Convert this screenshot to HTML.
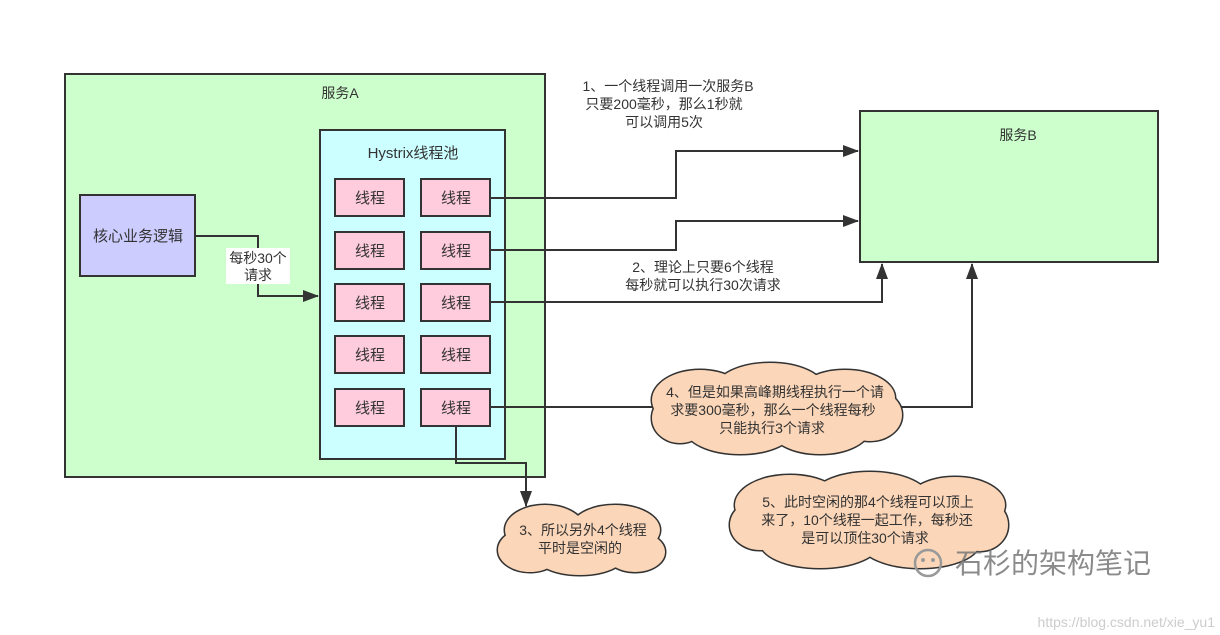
<!DOCTYPE html>
<html><head><meta charset="utf-8"><style>
body{margin:0;width:1220px;height:635px;background:#fff;overflow:hidden}
svg{display:block;font-size:14px}
text{font-family:"Liberation Sans","Noto Sans CJK SC",sans-serif;fill:#333}
</style></head><body>
<svg width="1220" height="635" viewBox="0 0 1220 635">
<defs><marker id="a" markerWidth="16" markerHeight="12" refX="15" refY="6" orient="auto" markerUnits="userSpaceOnUse"><path d="M0,0L16,6L0,12z" fill="#333"/></marker></defs>
<rect x="65" y="74" width="480" height="403" fill="#ccffcc" stroke="#333" stroke-width="2"/>
<text x="340" y="98" text-anchor="middle" font-size="14">服务A</text>
<rect x="320" y="130" width="185" height="329" fill="#ccffff" stroke="#333" stroke-width="2"/>
<text x="413" y="158" text-anchor="middle" font-size="15">Hystrix线程池</text>
<rect x="80" y="195" width="115" height="81" fill="#ccccff" stroke="#333" stroke-width="2"/>
<text x="138" y="241" text-anchor="middle" font-size="15">核心业务逻辑</text>
<g fill="#ffccdd" stroke="#333" stroke-width="2">
<rect x="335" y="179" width="69" height="37"/><rect x="421" y="179" width="69" height="37"/>
<rect x="335" y="232" width="69" height="37"/><rect x="421" y="232" width="69" height="37"/>
<rect x="335" y="284" width="69" height="37"/><rect x="421" y="284" width="69" height="37"/>
<rect x="335" y="336" width="69" height="37"/><rect x="421" y="336" width="69" height="37"/>
<rect x="335" y="389" width="69" height="37"/><rect x="421" y="389" width="69" height="37"/>
</g>
<g text-anchor="middle" font-size="15">
<text x="370" y="203">线程</text><text x="456" y="203">线程</text>
<text x="370" y="256">线程</text><text x="456" y="256">线程</text>
<text x="370" y="308">线程</text><text x="456" y="308">线程</text>
<text x="370" y="360">线程</text><text x="456" y="360">线程</text>
<text x="370" y="413">线程</text><text x="456" y="413">线程</text>
</g>
<rect x="860" y="111" width="298" height="151" fill="#ccffcc" stroke="#333" stroke-width="2"/>
<text x="1018" y="140" text-anchor="middle" font-size="14">服务B</text>
<g fill="none" stroke="#333" stroke-width="2">
<path d="M195,236H258V296H318" marker-end="url(#a)"/>
<path d="M490,198H676V151H858" marker-end="url(#a)"/>
<path d="M490,250H676V221H858" marker-end="url(#a)"/>
<path d="M490,302H882V264" marker-end="url(#a)"/>
<path d="M490,407H660"/>
<path d="M900,407H972V264" marker-end="url(#a)"/>
<path d="M456,426V463H526V506" marker-end="url(#a)"/>
</g>
<rect x="226" y="248" width="64" height="36" fill="#fff"/>
<text x="258" y="263" text-anchor="middle">每秒30个</text>
<text x="258" y="280" text-anchor="middle">请求</text>
<g text-anchor="middle">
<text x="668" y="91">1、一个线程调用一次服务B</text>
<text x="664" y="109">只要200毫秒，那么1秒就</text>
<text x="664" y="127">可以调用5次</text>
<text x="703" y="272">2、理论上只要6个线程</text>
<text x="703" y="290">每秒就可以执行30次请求</text>
</g>
<g stroke="#333" stroke-width="3" fill="#fbd6b8"><ellipse cx="700" cy="400" rx="48" ry="30"/><ellipse cx="770" cy="390" rx="55" ry="27"/><ellipse cx="845" cy="398" rx="50" ry="28"/><ellipse cx="870" cy="415" rx="32" ry="26"/><ellipse cx="680" cy="418" rx="28" ry="25"/><ellipse cx="740" cy="428" rx="55" ry="26"/><ellipse cx="820" cy="428" rx="50" ry="26"/></g>
<g fill="#fbd6b8"><ellipse cx="700" cy="400" rx="48" ry="30"/><ellipse cx="770" cy="390" rx="55" ry="27"/><ellipse cx="845" cy="398" rx="50" ry="28"/><ellipse cx="870" cy="415" rx="32" ry="26"/><ellipse cx="680" cy="418" rx="28" ry="25"/><ellipse cx="740" cy="428" rx="55" ry="26"/><ellipse cx="820" cy="428" rx="50" ry="26"/></g>
<g stroke="#333" stroke-width="3" fill="#fbd6b8"><ellipse cx="545" cy="530" rx="40" ry="25"/><ellipse cx="615" cy="530" rx="45" ry="25"/><ellipse cx="530" cy="550" rx="32" ry="22"/><ellipse cx="580" cy="555" rx="45" ry="20"/><ellipse cx="635" cy="552" rx="30" ry="20"/></g>
<g fill="#fbd6b8"><ellipse cx="545" cy="530" rx="40" ry="25"/><ellipse cx="615" cy="530" rx="45" ry="25"/><ellipse cx="530" cy="550" rx="32" ry="22"/><ellipse cx="580" cy="555" rx="45" ry="20"/><ellipse cx="635" cy="552" rx="30" ry="20"/></g>
<g stroke="#333" stroke-width="3" fill="#fbd6b8"><ellipse cx="790" cy="505" rx="55" ry="30"/><ellipse cx="870" cy="500" rx="60" ry="28"/><ellipse cx="955" cy="505" rx="50" ry="28"/><ellipse cx="980" cy="525" rx="28" ry="26"/><ellipse cx="760" cy="525" rx="30" ry="25"/><ellipse cx="820" cy="542" rx="60" ry="26"/><ellipse cx="920" cy="542" rx="60" ry="26"/></g>
<g fill="#fbd6b8"><ellipse cx="790" cy="505" rx="55" ry="30"/><ellipse cx="870" cy="500" rx="60" ry="28"/><ellipse cx="955" cy="505" rx="50" ry="28"/><ellipse cx="980" cy="525" rx="28" ry="26"/><ellipse cx="760" cy="525" rx="30" ry="25"/><ellipse cx="820" cy="542" rx="60" ry="26"/><ellipse cx="920" cy="542" rx="60" ry="26"/></g>
<g text-anchor="middle">
<text x="775" y="397">4、但是如果高峰期线程执行一个请</text>
<text x="773" y="415">求要300毫秒，那么一个线程每秒</text>
<text x="772" y="433">只能执行3个请求</text>
<text x="583" y="535">3、所以另外4个线程</text>
<text x="580" y="553">平时是空闲的</text>
<text x="868" y="507">5、此时空闲的那4个线程可以顶上</text>
<text x="867" y="525">来了，10个线程一起工作，每秒还</text>
<text x="865" y="543">是可以顶住30个请求</text>
</g>
<text x="955" y="573" style="font-size:28px;fill:#777;opacity:.85">石杉的架构笔记</text>
<circle cx="928" cy="563" r="13" fill="none" stroke="#999" stroke-width="2.5"/>
<circle cx="923" cy="560" r="2" fill="#999"/><circle cx="933" cy="560" r="2" fill="#999"/>
<text x="1215" y="627" text-anchor="end" style="font-size:14px;fill:#ccc">https://blog.csdn.net/xie_yu1</text>
</svg>
</body></html>
